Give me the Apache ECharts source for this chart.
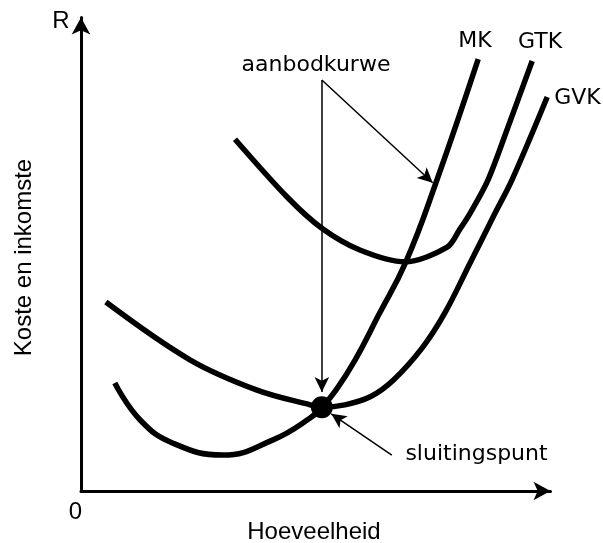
<!DOCTYPE html>
<html>
<head>
<meta charset="utf-8">
<script src="https://cdn.jsdelivr.net/npm/echarts@6/dist/echarts.min.js"></script>
<style>
  html, body { margin: 0; padding: 0; background: #fff; }
  #chart { width: 603px; height: 543px; }
</style>
</head>
<body>
<div id="chart"></div>
<script>
// Cost curves of a firm: quantity (x) against cost/revenue (y), both in relative units 0–100.
const mkQ  = [7.2, 12.6, 19.6, 30.2, 40.9, 48.8, 51.3, 54.3, 58.4, 63.3, 69.2, 75.6, 84.6];
const mkC  = [22.8, 15.0, 10.1, 7.6, 10.8, 15.4, 17.7, 21.3, 27.7, 37.0, 48.4, 65.1, 91.2];

const gtkQ = [32.8, 43.9, 51.3, 59.4, 69.0, 78.0, 80.7, 82.9, 86.7, 91.4, 96.1];
const gtkC = [74.3, 62.1, 55.5, 50.9, 48.4, 51.5, 55.3, 58.7, 65.7, 78.1, 90.8];

const gvkQ = [5.3, 23.2, 37.5, 48.8, 51.3, 56.2, 61.6, 66.5, 72.8, 77.5, 82.9, 88.2, 91.8, 99.3];
const gvkC = [39.9, 27.7, 21.3, 18.2, 17.7, 18.2, 19.9, 23.4, 30.4, 37.6, 48.2, 58.7, 65.7, 83.2];

// Shutdown point: minimum of GVK where MK crosses it
const shutdownPoint = [51.3, 17.7];

const curveNames = ['MK', 'GTK', 'GVK'];
const axisTitleX = 'Hoeveelheid';
const axisTitleY = 'Koste en inkomste';
const supplyLabel = 'aanbodkurwe';
const shutdownLabel = 'sluitingspunt';

const zip = (xs, ys) => xs.map((x, i) => [x, ys[i]]);

const chart = echarts.init(document.getElementById('chart'), null, { renderer: 'canvas' });

function valueAxis() {
  return {
    type: 'value',
    min: 0,
    max: 100,
    axisLine: {
      show: true,
      onZero: false,
      symbol: ['none', 'arrow'],
      symbolSize: [14, 17],
      lineStyle: { color: '#000', width: 3 }
    },
    axisTick: { show: false },
    axisLabel: { show: false },
    splitLine: { show: false }
  };
}

const annoFont = '22px "DejaVu Sans"';
const axisFont = '24px "Liberation Sans", Arial, sans-serif';

function curve(name, q, c, smooth) {
  return {
    name: name,
    type: 'line',
    data: zip(q, c),
    smooth: smooth,
    symbol: 'none',
    showSymbol: false,
    lineStyle: { color: '#000', width: 5.5, opacity: 1 },
    itemStyle: { color: '#000' },
    z: 2,
    silent: true
  };
}

function label(text, x, y, font, rotation) {
  return {
    type: 'text', x: x, y: y, rotation: rotation || 0,
    style: { text: text, font: font, fill: '#000', align: 'center', verticalAlign: 'middle' }
  };
}

chart.setOption({
  animation: false,
  backgroundColor: '#fff',
  grid: { left: 81, right: 52.5, top: 17.5, bottom: 52 },
  xAxis: valueAxis(),
  yAxis: valueAxis(),
  series: [
    curve(curveNames[0], mkQ, mkC, 0.45),
    curve(curveNames[1], gtkQ, gtkC, 0.3),
    curve(curveNames[2], gvkQ, gvkC, 0.35),
    {
      name: shutdownLabel,
      type: 'scatter',
      data: [shutdownPoint],
      symbol: 'circle',
      symbolSize: 22,
      itemStyle: { color: '#000', opacity: 1 },
      z: 4,
      silent: true,
      markLine: {
        silent: true,
        symbol: ['none', 'arrow'],
        symbolSize: [11, 15],
        label: { show: false },
        lineStyle: { color: '#000', width: 1.5, type: 'solid', opacity: 1 },
        data: [
          // supply-curve pointer down to the shutdown point
          [{ coord: [51.3, 86.8] }, { coord: [51.3, 20.9] }],
          // supply-curve pointer to MK
          [{ coord: [51.3, 86.8] }, { coord: [74.9, 65.1] }],
          // shutdown-point pointer
          [{ coord: [66.2, 7.6] }, { coord: [53.3, 16.3] }]
        ]
      }
    }
  ],
  graphic: [
    label('R', 61, 21.6, axisFont),
    label('0', 75.5, 512.6, axisFont),
    label(axisTitleX, 314, 532.6, axisFont),
    label(axisTitleY, 24.6, 257.5, axisFont, Math.PI / 2),
    label(supplyLabel, 316, 65.5, annoFont),
    label(shutdownLabel, 476.5, 454.5, annoFont),
    label(curveNames[0], 475, 41.5, annoFont),
    label(curveNames[1], 540, 42.5, annoFont),
    label(curveNames[2], 577.5, 98.5, annoFont)
  ]
});
</script>
</body>
</html>
